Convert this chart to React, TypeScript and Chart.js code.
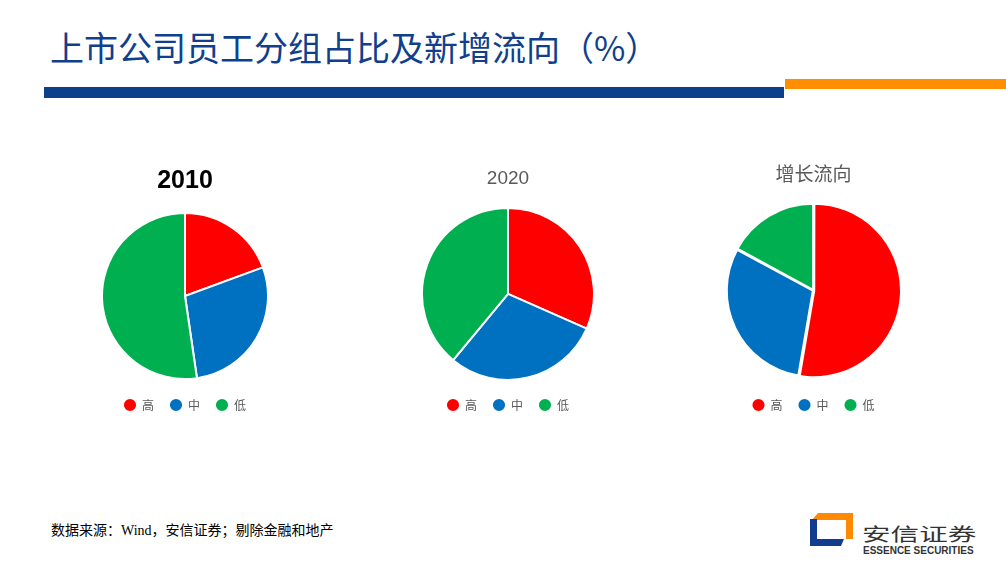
import React, { useEffect, useRef } from "react";
import { Chart, registerables } from "chart.js";

Chart.register(...registerables);

const categories = ["高", "中", "低"];
const share2010 = [19.4, 28.3, 52.3];
const share2020 = [31.6, 29.4, 39.0];
const shareGrowth = [52.7, 30.2, 17.1];
const sliceColors = ["#FF0000", "#0070C0", "#00B050"];

const pageTitle = "上市公司员工分组占比及新增流向（%）";
const sourceNote = "数据来源：Wind，安信证券；剔除金融和地产";

type PieProps = {
  title: string;
  values: number[];
  left: number;
  top: number;
  width: number;
  height: number;
  titleSize: number;
  titleBold: boolean;
  titleColor: string;
  titleFamily: string;
  titleGap: number;
  offset: number;
};

function PieChart(p: PieProps) {
  const ref = useRef<HTMLCanvasElement | null>(null);
  useEffect(() => {
    if (!ref.current) return;
    const chart = new Chart(ref.current, {
      type: "pie",
      data: {
        labels: categories,
        datasets: [
          {
            data: p.values,
            backgroundColor: sliceColors,
            borderColor: "#FFFFFF",
            borderWidth: 2,
            offset: p.offset,
            hoverOffset: 0,
          },
        ],
      },
      options: {
        responsive: false,
        animation: false,
        devicePixelRatio: 1,
        layout: { padding: 0 },
        plugins: {
          title: {
            display: true,
            text: p.title,
            color: p.titleColor,
            font: {
              family: p.titleFamily,
              size: p.titleSize,
              weight: p.titleBold ? "bold" : "normal",
              lineHeight: 1.2,
            },
            padding: { top: 0, bottom: p.titleGap },
          },
          legend: {
            position: "bottom",
            labels: {
              usePointStyle: true,
              pointStyle: "circle",
              boxWidth: 12,
              boxHeight: 10,
              padding: 16,
              color: "#595959",
              font: { family: "'Noto Sans CJK SC', 'Liberation Sans', sans-serif", size: 12 },
            },
          },
          tooltip: { enabled: false },
        },
      },
    });
    return () => chart.destroy();
  }, []);
  return (
    <canvas
      ref={ref}
      width={p.width}
      height={p.height}
      style={{ position: "absolute", left: p.left, top: p.top, width: p.width, height: p.height }}
    />
  );
}

export default function App() {
  return (
    <div
      style={{
        position: "absolute",
        left: 0,
        top: 0,
        width: 1006,
        height: 561,
        overflow: "hidden",
        background: "#FFFFFF",
      }}
    >
      <div
        style={{
          position: "absolute",
          left: 50,
          top: 30,
          fontFamily: "'Noto Sans CJK SC', sans-serif",
          fontSize: 34,
          lineHeight: "34px",
          color: "#0F3F8D",
          whiteSpace: "nowrap",
        }}
      >
        {pageTitle}
      </div>
      <div style={{ position: "absolute", left: 44, top: 87, width: 740, height: 11, background: "#0C3F8C" }} />
      <div style={{ position: "absolute", left: 785, top: 79, width: 221, height: 10, background: "#FF8F00" }} />

      <PieChart
        title="2010"
        values={share2010}
        left={101}
        top={166}
        width={168}
        height={255}
        titleSize={25}
        titleBold={true}
        titleColor="#000000"
        titleFamily="'Liberation Sans', Arial, sans-serif"
        titleGap={13}
        offset={0}
      />
      <PieChart
        title="2020"
        values={share2020}
        left={421}
        top={167}
        width={174}
        height={254}
        titleSize={19}
        titleBold={false}
        titleColor="#595959"
        titleFamily="'Liberation Sans', Arial, sans-serif"
        titleGap={15}
        offset={0}
      />
      <PieChart
        title="增长流向"
        values={shareGrowth}
        left={725}
        top={162}
        width={177}
        height={259}
        titleSize={19}
        titleBold={false}
        titleColor="#595959"
        titleFamily="'Noto Sans CJK SC', sans-serif"
        titleGap={13}
        offset={3}
      />

      <div
        style={{
          position: "absolute",
          left: 51,
          top: 524,
          fontFamily: "'Liberation Serif', 'Noto Sans CJK SC', serif",
          fontSize: 14,
          lineHeight: "14px",
          color: "#000000",
          whiteSpace: "nowrap",
        }}
      >
        {sourceNote}
      </div>

      <svg
        style={{ position: "absolute", left: 808, top: 511 }}
        width={48}
        height={38}
        viewBox="0 0 48 38"
      >
        <polygon points="10,2 45,2 45,28 38,28 38,9 4,9" fill="#FF8A00" />
        <polygon points="2,8 9,8 9,28 36,28 33,35 2,35" fill="#123C8E" />
      </svg>
      <div
        style={{
          position: "absolute",
          left: 862,
          top: 524,
          fontFamily: "'Noto Sans CJK SC', sans-serif",
          fontSize: 26,
          lineHeight: "26px",
          color: "#333333",
          whiteSpace: "nowrap",
          transform: "scale(1.1, 0.72)",
          transformOrigin: "left top",
        }}
      >
        安信证券
      </div>
      <div
        style={{
          position: "absolute",
          left: 863,
          top: 546,
          fontFamily: "'Liberation Sans', Arial, sans-serif",
          fontWeight: "bold",
          fontSize: 10,
          lineHeight: "10px",
          color: "#333333",
          whiteSpace: "nowrap",
        }}
      >
        ESSENCE SECURITIES
      </div>
    </div>
  );
}
